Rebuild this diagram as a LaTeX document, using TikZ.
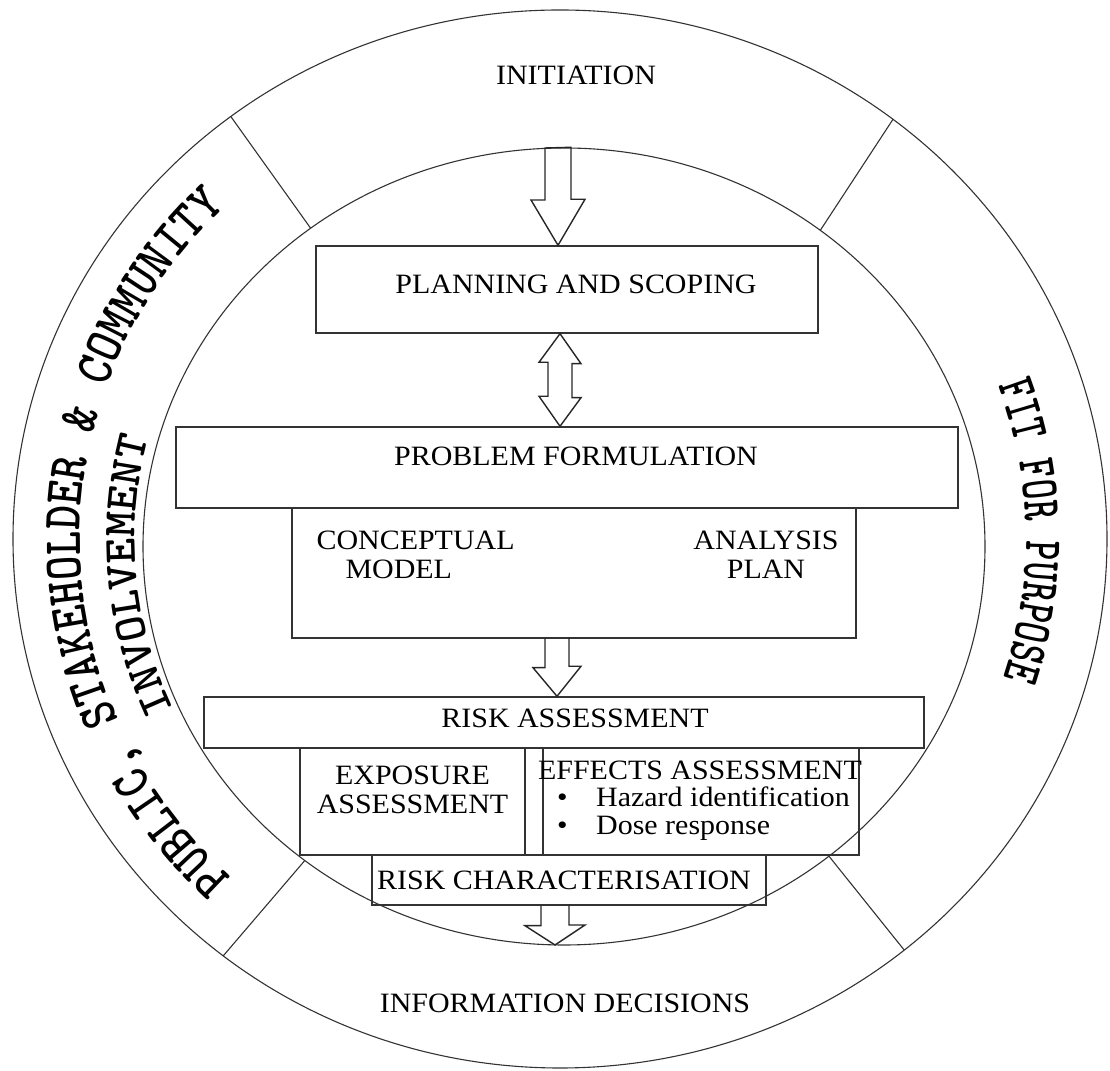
\documentclass[tikz,border=0pt]{standalone}
\usepackage{fontspec}
\setmainfont{Liberation Serif}[FakeStretch=1.07]
\newfontfamily\ringfont{lmmonolt10-bold.otf}[FakeStretch=0.86]
\newfontfamily\ringfontb{lmmonolt10-bold.otf}[FakeStretch=1.05]
\newfontfamily\ringfontc{lmmonolt10-bold.otf}[FakeStretch=0.7]
\usetikzlibrary{calc,decorations.text}

\begin{document}
\begin{tikzpicture}[x=1pt,y=1pt,font=\fontsize{28}{29}\selectfont,
  ring/.style={draw=black!80,line width=1.1pt},
  box/.style={draw=black!80,line width=1.4pt,inner sep=0pt},
  blk/.style={draw=black!85,line width=1.4pt,line join=miter}]
\useasboundingbox (0,0) rectangle (1110,1070);

% outer and inner ring
\coordinate (oc) at (560,531);
\coordinate (ic) at (564,523.5);
\draw[ring] (oc) ellipse [x radius=547,y radius=529];
\draw[ring] (ic) ellipse [x radius=421,y radius=398.5];
\foreach \a in {52.5,127,232,309}
  \draw[ring] ($(ic)+(\a:421 and 398.5)$) -- ($(oc)+(\a:547 and 529)$);

% ring labels
\node (init) at (576,995) {INITIATION};
\node (info) at (565,67) {INFORMATION DECISIONS};
\path[decorate,decoration={text along path,text align=center,
  text={|\ringfont\fontsize{54}{54}\selectfont|PUBLIC, STAKEHOLDER {\&} COMMUNITY}}]
  ($(oc)+(250.5:480 and 464)$) arc[start angle=250.5,end angle=110.5,x radius=480,y radius=464];
\path[decorate,decoration={text along path,text align=center,
  text={|\ringfontb\fontsize{46}{46}\selectfont|INVOLVEMENT}}]
  ($(oc)+(255:425 and 411)$) arc[start angle=255,end angle=115,x radius=425,y radius=411];
\path[decorate,decoration={text along path,text align=center,
  text={|\ringfontc\fontsize{54}{54}\selectfont|FIT FOR PURPOSE}}]
  ($(oc)+(72:466 and 451)$) arc[start angle=72,end angle=-70,x radius=466,y radius=451];

% boxes
\node[box,minimum width=502,minimum height=87] (plan) at (567,780.5) {};
\node[box,minimum width=782,minimum height=81] (prob) at (567,602.5) {};
\node[box,minimum width=564,minimum height=130] (con) at (574,497) {};
\node[box,minimum width=720,minimum height=51] (ra) at (564,347.5) {};
\node[box,minimum width=225,minimum height=107] (expo) at (412.5,268.5) {};
\node[box,minimum width=316,minimum height=107] (eff) at (701,268.5) {};
\node[box,minimum width=394,minimum height=50] (rc) at (569,190) {};

% box texts
\node (plantxt) at ($(plan)+(9,5)$) {PLANNING AND SCOPING};
\node (probtxt) at (576,614) {PROBLEM FORMULATION};
\node[align=left,anchor=west] (model) at (313,515) {CONCEPTUAL\\\hspace*{29pt}MODEL};
\node[align=center] (plantwo) at (766,515) {ANALYSIS\\PLAN};
\node (ratxt) at (575,352) {RISK ASSESSMENT};
\node[align=center] (expotxt) at (412.5,280) {EXPOSURE\\ASSESSMENT};
\node (efftxt) at (700,300) {EFFECTS ASSESSMENT};
\node[anchor=base west,inner sep=0pt] (haz) at (557,263) {\makebox[39pt][l]{\textbullet}Hazard identification};
\node[anchor=base west,inner sep=0pt] (dose) at (557,235) {\makebox[39pt][l]{\textbullet}Dose response};
\node (rctxt) at (564,190) {RISK CHARACTERISATION};

% block arrows
\coordinate (itop) at (558,922);
\coordinate (a2) at (560,690);
\coordinate (a3) at (557,400);
\coordinate (a4) at (555,125);
\draw[blk] (itop) ++(-13,0) -- ++(0,-52) -- ++(-14,0) -- (plan.north -| itop)
  -- ++(27,46) -- ++(-14,0) -- ++(0,52) -- cycle;
\draw[blk] (plan.south -| a2) -- ++(21,-30) -- ++(-9,0) -- ++(0,-34) -- ++(9,0)
  -- (prob.north -| a2) -- ++(-21,30) -- ++(9,0) -- ++(0,34) -- ++(-9,0) -- cycle;
\draw[blk] (con.south -| a3) ++(-12,0) -- ++(0,-29) -- ++(-12,0) -- (ra.north -| a3)
  -- ++(24,30) -- ++(-12,0) -- ++(0,29);
\draw[blk] (rc.south -| a4) ++(-14,0) -- ++(0,-20) -- ++(-16,0) -- (a4)
  -- ++(30,20) -- ++(-16,0) -- ++(0,20);
\end{tikzpicture}
\end{document}
